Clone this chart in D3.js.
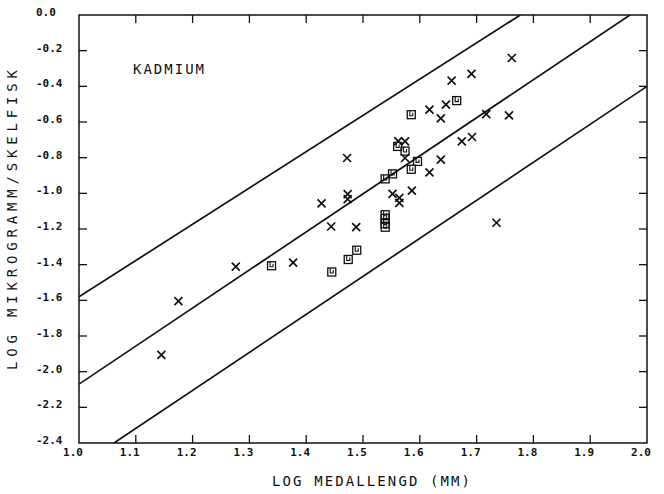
<!DOCTYPE html>
<html>
<head>
  <meta charset="utf-8">
  <title>Kadmium</title>
  <script src="https://d3js.org/d3.v7.min.js"></script>
  <style>
    body { margin: 0; background: #fff; }
    text { font-family: "DejaVu Sans Mono", monospace; fill: #111; }
    .tick-label { font-size: 11px; font-weight: bold; }
    .frame { fill: none; stroke: #111; stroke-width: 1.5px; }
    .band { fill: none; stroke: #111; stroke-width: 1.7px; }
    .mark { fill: none; stroke: #111; }
  </style>
</head>
<body>
  <script>
    // Tick values
    const xTicks = [1.0, 1.1, 1.2, 1.3, 1.4, 1.5, 1.6, 1.7, 1.8, 1.9, 2.0];
    const yTicks = [0.0, -0.2, -0.4, -0.6, -0.8, -1.0, -1.2, -1.4, -1.6, -1.8, -2.0, -2.2, -2.4];

    // Crosses (x = log length, y = log microgram)
    const crossX = [1.145, 1.175, 1.276, 1.377, 1.427, 1.444, 1.472, 1.473, 1.473, 1.488,
                    1.552, 1.564, 1.564, 1.562, 1.574, 1.574, 1.586, 1.617, 1.617, 1.637,
                    1.637, 1.646, 1.656, 1.674, 1.692, 1.691, 1.717, 1.757, 1.762, 1.735];
    const crossY = [-1.906, -1.604, -1.411, -1.389, -1.056, -1.186, -0.802, -1.004, -1.032, -1.189,
                    -1.003, -1.025, -1.053, -0.707, -0.709, -0.802, -0.985, -0.531, -0.882, -0.580,
                    -0.811, -0.503, -0.368, -0.709, -0.684, -0.330, -0.556, -0.563, -0.241, -1.165];

    // Squares
    const squareX = [1.339, 1.445, 1.474, 1.489, 1.539, 1.539, 1.539, 1.539,
                     1.539, 1.552, 1.561, 1.574, 1.585, 1.596, 1.585, 1.665];
    const squareY = [-1.406, -1.441, -1.371, -1.319, -1.12, -1.14, -1.17, -1.19,
                     -0.919, -0.891, -0.737, -0.763, -0.865, -0.821, -0.559, -0.480];

    // Regression line and band lines, as end points
    const midLine = [[1.0, -2.07], [1.97, 0.0]];
    const upperLine = [[1.0, -1.58], [1.777, 0.0]];
    const lowerLine = [[1.0616, -2.4], [2.0, -0.40]];

    const width = 664, height = 494;
    const margin = { top: 15, right: 17, bottom: 51, left: 79 };

    const x = d3.scaleLinear().domain([1.0, 2.0]).range([margin.left, width - margin.right]);
    const y = d3.scaleLinear().domain([-2.4, 0.0]).range([height - margin.bottom, margin.top]);

    const svg = d3.select("body").append("svg")
        .attr("width", width)
        .attr("height", height);

    svg.append("rect").attr("width", width).attr("height", height).attr("fill", "#fff");

    svg.append("clipPath").attr("id", "plot")
      .append("rect")
        .attr("x", x(1.0)).attr("y", y(0))
        .attr("width", x(2.0) - x(1.0)).attr("height", y(-2.4) - y(0));

    // Frame
    svg.append("rect").attr("class", "frame")
        .attr("x", x(1.0)).attr("y", y(0))
        .attr("width", x(2.0) - x(1.0)).attr("height", y(-2.4) - y(0));

    // Inward ticks on all four sides
    const tl = 8;
    const xInner = xTicks.slice(1, -1);
    const yInner = yTicks.slice(1, -1);
    const tick = svg.append("g").attr("stroke", "#111").attr("stroke-width", 1.3);
    tick.selectAll(".xb").data(xInner).join("line")
        .attr("x1", d => x(d)).attr("x2", d => x(d))
        .attr("y1", y(-2.4)).attr("y2", y(-2.4) - tl);
    tick.selectAll(".xt").data(xInner).join("line")
        .attr("x1", d => x(d)).attr("x2", d => x(d))
        .attr("y1", y(0)).attr("y2", y(0) + tl);
    tick.selectAll(".yl").data(yInner).join("line")
        .attr("x1", x(1.0)).attr("x2", x(1.0) + tl)
        .attr("y1", d => y(d)).attr("y2", d => y(d));
    tick.selectAll(".yr").data(yInner).join("line")
        .attr("x1", x(2.0)).attr("x2", x(2.0) - tl)
        .attr("y1", d => y(d)).attr("y2", d => y(d));

    // Tick labels
    svg.append("g").selectAll("text").data(xTicks).join("text")
        .attr("class", "tick-label")
        .attr("x", d => x(d) - 6)
        .attr("y", y(-2.4) + 13)
        .attr("text-anchor", "middle")
        .text(d => d.toFixed(1));
    svg.append("g").selectAll("text").data(yTicks).join("text")
        .attr("class", "tick-label")
        .attr("x", 36)
        .attr("y", d => y(d) + 1)
        .text(d => d.toFixed(1).replace("-0.0", "0.0"));

    // Lines
    const line = d3.line().x(d => x(d[0])).y(d => y(d[1]));
    svg.append("g").attr("clip-path", "url(#plot)")
      .selectAll("path").data([upperLine, midLine, lowerLine]).join("path")
        .attr("class", "band")
        .attr("d", line);

    // Crosses
    const s = 4;
    svg.append("g").selectAll("path").data(d3.range(crossX.length)).join("path")
        .attr("class", "mark")
        .attr("stroke-width", 1.7)
        .attr("transform", i => `translate(${x(crossX[i])},${y(crossY[i])})`)
        .attr("d", `M${-s},${-s}L${s},${s}M${-s},${s}L${s},${-s}`);

    // Squares
    const sq = svg.append("g").selectAll("g").data(d3.range(squareX.length)).join("g")
        .attr("transform", i => `translate(${x(squareX[i])},${y(squareY[i])})`);
    sq.append("rect").attr("class", "mark").attr("stroke-width", 1.3)
        .attr("x", -4).attr("y", -4).attr("width", 8).attr("height", 8);
    sq.append("path").attr("class", "mark").attr("stroke-width", 1.1)
        .attr("d", "M-1.5,-4V1H1.5V-2");

    // Texts
    svg.append("text")
        .attr("x", 133).attr("y", 74)
        .attr("font-size", 14)
        .attr("textLength", 71).attr("lengthAdjust", "spacing")
        .text("KADMIUM");

    svg.append("text")
        .attr("x", 371).attr("y", 486)
        .attr("font-size", 14)
        .attr("text-anchor", "middle")
        .attr("textLength", 198).attr("lengthAdjust", "spacing")
        .text("LOG MEDALLENGD (MM)");

    svg.append("text")
        .attr("transform", "translate(17,220) rotate(-90)")
        .attr("font-size", 14)
        .attr("text-anchor", "middle")
        .attr("textLength", 300).attr("lengthAdjust", "spacing")
        .text("LOG MIKROGRAMM/SKELFISK");
  </script>
</body>
</html>
